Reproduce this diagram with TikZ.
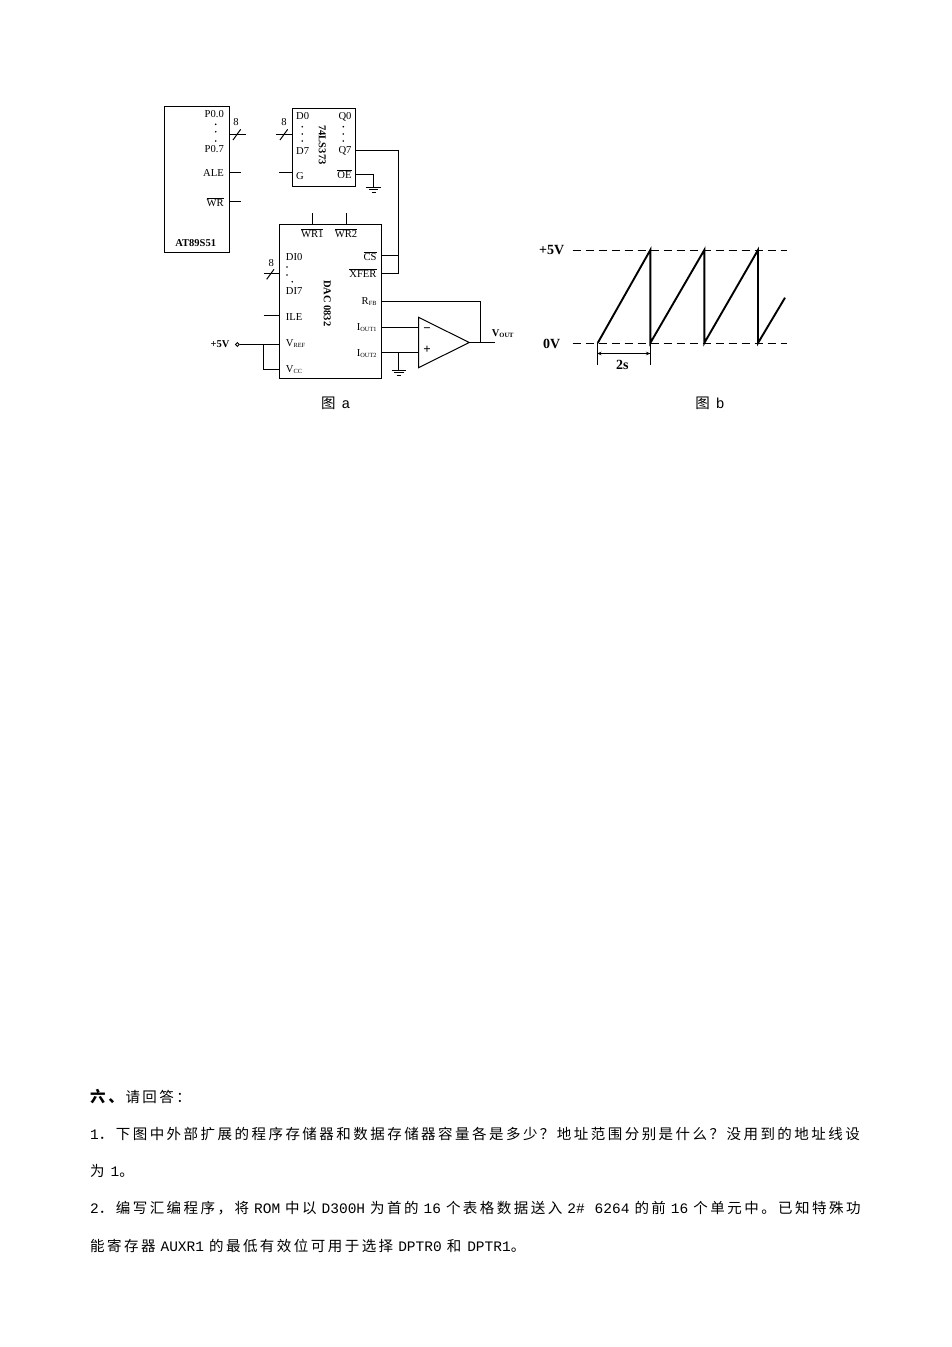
\documentclass[tikz,border=0pt]{standalone}
\usepackage{fontspec}
\usetikzlibrary{arrows.meta}
\setmainfont{Liberation Serif}
\newfontfamily\cjk[LetterSpace=17]{Noto Sans CJK SC}
\newfontfamily\cjkplain{Noto Sans CJK SC}
\newfontfamily\lat{Liberation Mono}
\newcommand{\LL}[1]{\hspace{5pt}{\lat #1}\hspace{5pt}}
\newcommand{\LR}[1]{\hspace{6pt}{\lat #1}}
\newcommand{\LS}[1]{{\lat #1}}
\newcommand{\ovl}[1]{$\overline{\mbox{#1}}$}
\newcommand{\sbs}[1]{\raisebox{-1.6pt}{\fontsize{6.3}{7}\selectfont #1}}
\tikzset{
  lbl/.style={inner sep=0,font=\fontsize{10.6}{12}\selectfont,text height=7,text depth=0},
  lble/.style={lbl,anchor=east},
  lblw/.style={lbl,anchor=west},
  lblb/.style={lbl,font=\fontsize{10.5}{12}\selectfont\bfseries},
  big/.style={inner sep=0,font=\fontsize{14}{16}\selectfont\bfseries,text height=9.5,text depth=0},
  chip/.style={draw,line width=1,anchor=north west,inner sep=0},
  wire/.style={line width=1},
  pdot/.style={circle,fill=black,inner sep=0,minimum size=1.8},
  wave/.style={line width=1.9},
  dashy/.style={line width=1,dash pattern=on 8.5 off 4.5},
  para/.style={anchor=base west,inner sep=0,font=\fontsize{14.5}{16}\cjk},
  figcap/.style={inner sep=0,font=\fontsize{14.5}{16}\cjkplain}
}
\begin{document}
\begin{tikzpicture}[x=1pt,y=-1pt]
\useasboundingbox (0,0) rectangle (952,1347);
\fill[white] (0,0) rectangle (952,1347);
% AT89S51
\node[chip,minimum width=65,minimum height=146] (at) at (164,105.5) {};
\node[lble] (p00) at (224,114) {P0.0};
\node[lble] (p07) at (224,148.7) {P0.7};
\node[lble] (ale) at (224,173.3) {ALE};
\node[lble] (wr) at (224,202.7) {\ovl{WR}};
\node[lblb] (atname) at (195.7,242.7) {AT89S51};
\node[pdot] (d1) at (215.7,124.3) {};
\node[pdot] (d2) at (215.7,131.7) {};
\node[pdot] (d3) at (215.7,141) {};
\coordinate (pa) at (229,134.5); \coordinate (pb) at (246,134.5);
\coordinate (s1a) at (233,140); \coordinate (s1b) at (240.7,129.3);
\draw[wire] (pa) -- (pb); \draw[wire] (s1a) -- (s1b);
\node[lbl] (n8a) at (236,122.3) {8};
\coordinate (alea) at (229,172.5); \coordinate (aleb) at (241,172.5);
\draw[wire] (alea) -- (aleb);
\coordinate (wra) at (229,201.5); \coordinate (wrb) at (241,201.5);
\draw[wire] (wra) -- (wrb);
% 74LS373
\node[chip,minimum width=63,minimum height=78] (ls) at (292,107.5) {};
\node[lblw] (d0) at (296,116) {D0};
\node[lblw] (d7) at (296,150.7) {D7};
\node[lblw] (g) at (296,175.7) {G};
\node[lble] (q0) at (351.7,116) {Q0};
\node[lble] (q7) at (351.7,150) {Q7};
\node[lble] (oe) at (351.7,175) {\ovl{OE}};
\node[lblb,rotate=-90] (lsname) at (322.3,145) {74LS373};
\node[pdot] (d4) at (302.3,126.7) {};
\node[pdot] (d5) at (302.3,134) {};
\node[pdot] (d6) at (302.3,141) {};
\node[pdot] (d7a) at (343.3,126.7) {};
\node[pdot] (d8) at (343.3,134) {};
\node[pdot] (d9) at (343.3,141) {};
\coordinate (la) at (276,134.5); \coordinate (lb) at (292,134.5);
\coordinate (s2a) at (280,140); \coordinate (s2b) at (287.7,129.3);
\draw[wire] (la) -- (lb); \draw[wire] (s2a) -- (s2b);
\node[lbl] (n8b) at (284,122.3) {8};
\coordinate (ga) at (279,172.5); \coordinate (gb) at (292,172.5);
\draw[wire] (ga) -- (gb);
\coordinate (oea) at (355,174.5); \coordinate (oeb) at (373.5,174.5); \coordinate (oec) at (373.5,187.5);
\draw[wire] (oea) -- (oeb) -- (oec);
\coordinate (g1a) at (366,187.5); \coordinate (g1b) at (381,187.5);
\coordinate (g2a) at (369,189.5); \coordinate (g2b) at (378,189.5);
\coordinate (g3a) at (371.5,192.5); \coordinate (g3b) at (375.5,192.5);
\draw[wire] (g1a) -- (g1b); \draw[wire] (g2a) -- (g2b); \draw[wire] (g3a) -- (g3b);
% DAC0832
\node[chip,minimum width=102,minimum height=154] (dac) at (279,223.5) {};
\node[lbl] (wr1) at (312.3,234) {\ovl{WR1}};
\node[lbl] (wr2) at (346,234) {\ovl{WR2}};
\coordinate (t1a) at (312.5,213); \coordinate (t1b) at (312.5,223.5);
\coordinate (t2a) at (346.5,213); \coordinate (t2b) at (346.5,223.5);
\draw[wire] (t1a) -- (t1b); \draw[wire] (t2a) -- (t2b);
\node[lblw] (di0) at (285.7,256.7) {DI0};
\node[lblw] (di7) at (285.7,291.3) {DI7};
\node[lblw] (il) at (285.7,316.7) {ILE};
\node[lblw] (vref) at (285.7,342.7) {V\sbs{REF}};
\node[lblw] (vcc) at (285.7,368.7) {V\sbs{CC}};
\node[pdot] (e1) at (287,267) {};
\node[pdot] (e2) at (287,275) {};
\node[pdot] (e3) at (292.3,281.7) {};
\node[lble] (cs) at (376.7,256.7) {\ovl{CS}};
\node[lble] (xfer) at (376.7,274.3) {\ovl{XFER}};
\node[lble] (rfb) at (376.7,300.7) {R\sbs{FB}};
\node[lble] (io1) at (376.7,326.7) {I\sbs{OUT1}};
\node[lble] (io2) at (376.7,352.7) {I\sbs{OUT2}};
\node[lblb,rotate=-90] (dacname) at (327.3,303.3) {DAC 0832};
\coordinate (ia) at (263.5,273.5); \coordinate (ib) at (279,273.5);
\coordinate (s3a) at (266.7,279.3); \coordinate (s3b) at (274,269.3);
\draw[wire] (ia) -- (ib); \draw[wire] (s3a) -- (s3b);
\node[lbl] (n8c) at (271.3,263.3) {8};
\coordinate (ilea) at (263.5,315.5); \coordinate (ileb) at (279,315.5);
\draw[wire] (ilea) -- (ileb);
% Q7 to CS / XFER
\coordinate (q7a) at (355,150.5); \coordinate (q7b) at (398.5,150.5); \coordinate (q7c) at (398.5,273.5);
\coordinate (csa) at (381,255.5); \coordinate (csb) at (398.5,255.5); \coordinate (xa) at (381,273.5);
\draw[wire] (q7a) -- (q7b) -- (q7c) -- (xa);
\draw[wire] (csa) -- (csb);
% +5V
\node[lblb] (p5) at (220,344.3) {+5V};
\node[draw,circle,line width=.9,inner sep=0,minimum size=3.8] (term) at (237.3,344.5) {};
\coordinate (vra) at (279,344.5); \coordinate (vj) at (263.5,344.5); \coordinate (vjb) at (263.5,369.5); \coordinate (vca) at (279,369.5);
\draw[wire] (term) -- (vra);
\draw[wire] (vj) -- (vjb) -- (vca);
% op amp
\coordinate (oa) at (418.5,317.3); \coordinate (ob) at (418.5,367.7); \coordinate (oc) at (469.3,342.5);
\draw[wire,line join=miter] (oa) -- (ob) -- (oc) -- cycle;
\node[lbl,font=\fontsize{13}{13}\selectfont\bfseries,text height=6,text depth=0] (minus) at (427,329.5) {−};
\node[lbl,font=\fontsize{13}{13}\selectfont\bfseries,text height=6,text depth=0] (plus) at (427,350.7) {+};
\coordinate (r1) at (381,301.5); \coordinate (r2) at (480.5,301.5); \coordinate (r3) at (480.5,342.5);
\draw[wire] (r1) -- (r2) -- (r3);
\coordinate (o1a) at (381,327.5); \coordinate (o1b) at (418.5,327.5);
\coordinate (o2a) at (381,352.5); \coordinate (o2b) at (418.5,352.5);
\draw[wire] (o1a) -- (o1b); \draw[wire] (o2a) -- (o2b);
\coordinate (out) at (495.3,342.5);
\draw[wire] (oc) -- (out);
\node[lblb] (vout) at (502.7,332.7) {V\raisebox{-1.2pt}{\fontsize{6.5}{7}\selectfont OUT}};
\coordinate (gg) at (398.5,352.5); \coordinate (ge) at (398.5,370.5);
\draw[wire] (gg) -- (ge);
\coordinate (g4a) at (391.5,370.5); \coordinate (g4b) at (406,370.5);
\coordinate (g5a) at (394,372.5); \coordinate (g5b) at (403.5,372.5);
\coordinate (g6a) at (396.5,375.5); \coordinate (g6b) at (401,375.5);
\draw[wire] (g4a) -- (g4b); \draw[wire] (g5a) -- (g5b); \draw[wire] (g6a) -- (g6b);
\node[figcap] (capa) at (335.7,403.3) {图\hspace{6pt}{\lat a}};
% figure b
\node[big] (hi) at (551.7,250) {+5V};
\node[big] (lo) at (551.7,343.3) {0V};
\coordinate (h1) at (572.7,250.5); \coordinate (h2) at (786.7,250.5);
\coordinate (l1) at (572.7,343.5); \coordinate (l2) at (786.7,343.5);
\draw[dashy] (h1) -- (h2); \draw[dashy] (l1) -- (l2);
\coordinate (w0) at (597.7,343); \coordinate (w1) at (650.3,250); \coordinate (w2) at (650.3,343);
\coordinate (w3) at (704.3,250); \coordinate (w4) at (704.3,343);
\coordinate (w5) at (758,250); \coordinate (w6) at (758,343); \coordinate (w7) at (785,297.7);
\draw[wave,line join=miter] (w0) -- (w1) -- (w2) -- (w3) -- (w4) -- (w5) -- (w6) -- (w7);
\coordinate (da) at (597,343); \coordinate (db) at (597,364.7);
\coordinate (dc) at (650.5,343); \coordinate (dd) at (650.5,364.7);
\draw[line width=.9] (da) -- (db); \draw[line width=.9] (dc) -- (dd);
\coordinate (ea) at (597,353.5); \coordinate (eb) at (650.5,353.5);
\draw[line width=.9,{Stealth[length=4.5,width=3.5]}-{Stealth[length=4.5,width=3.5]}] (ea) -- (eb);
\node[big] (two) at (622.3,365) {2s};
\node[figcap] (capb) at (710,403) {图\hspace{6pt}{\lat b}};
% text
\node[para] (t0) at (90,1102) {{\fontsize{15.5}{16}\selectfont\bfseries 六、}\hspace{1.7pt}请回答：};
\node[para] (t1) at (90,1139) {\LS{1}．下图中外部扩展的程序存储器和数据存储器容量各是多少？地址范围分别是什么？没用到的地址线设};
\node[para] (t2) at (90,1176) {为\LR{1}。};
\node[para] (t3) at (90,1213) {\LS{2}．编写汇编程序，将\LL{ROM}中以\LL{D300H}为首的\LL{16}个表格数据送入\LL{2\#}\LL{6264}的前\LL{16}个单元中。已知特殊功};
\node[para] (t4) at (90,1251) {能寄存器\LL{AUXR1}的最低有效位可用于选择\LL{DPTR0}和\LR{DPTR1}。};
\end{tikzpicture}
\end{document}
